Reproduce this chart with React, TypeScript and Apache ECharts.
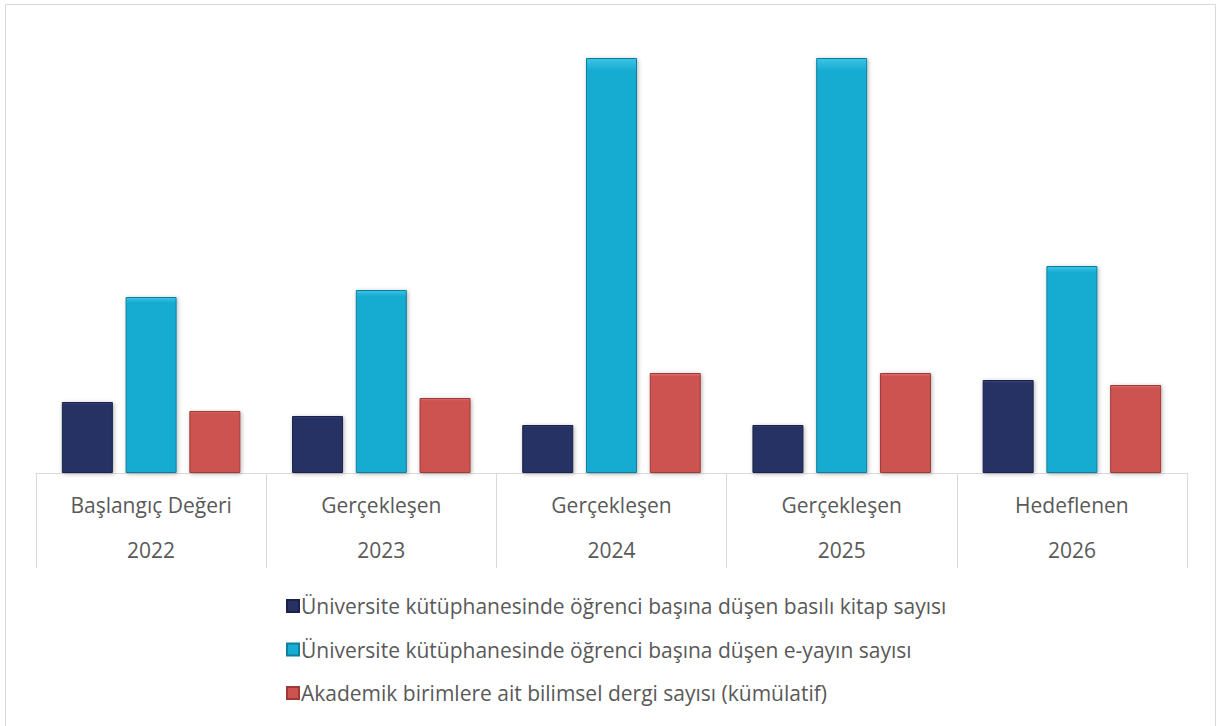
import React, { useEffect, useRef } from "react";
import * as echarts from "echarts";

const stages = ["Başlangıç Değeri", "Gerçekleşen", "Gerçekleşen", "Gerçekleşen", "Hedeflenen"];
const years = ["2022", "2023", "2024", "2025", "2026"];
const seriesNames = [
  "Üniversite kütüphanesinde öğrenci başına düşen basılı kitap sayısı",
  "Üniversite kütüphanesinde öğrenci başına düşen e-yayın sayısı",
  "Akademik birimlere ait bilimsel dergi sayısı (kümülatif)",
];
const printedBooks = [71, 57, 48, 48, 93];
const eResources = [176, 183, 415, 415, 207];
const journals = [62, 75, 100, 100, 88];
const colors = ["#283164", "#17acd2", "#cd5351"];
const borderColors = ["#1a2048", "#0e7f9c", "#9c3a38"];
const lightColors = ["#3a4680", "#3cc4e6", "#e07270"];

export default function App() {
  const ref = useRef<HTMLDivElement>(null);
  useEffect(() => {
    document.body.style.margin = "0";
    const chart = echarts.init(ref.current!, undefined, { renderer: "svg" });
    const font = "'Open Sans', 'Noto Sans', sans-serif";
    const mk = (i: number, data: number[]) => ({
      name: seriesNames[i],
      type: "bar",
      data,
      barWidth: 51,
      barGap: "25%",
      itemStyle: {
        color: {
          type: "linear",
          x: 0,
          y: 0,
          x2: 0,
          y2: 1,
          colorStops: [
            { offset: 0, color: lightColors[i] },
            { offset: 0.03, color: colors[i] },
            { offset: 1, color: colors[i] },
          ],
        },
        borderColor: borderColors[i],
        borderWidth: 1,
        shadowColor: "rgba(0,0,0,0.3)",
        shadowBlur: 4,
        shadowOffsetX: 1,
        shadowOffsetY: 1,
      },
    });
    chart.setOption({
      animation: false,
      textStyle: { fontFamily: font },
      graphic: [
        {
          type: "rect",
          shape: { x: 5.5, y: 4.5, width: 1210, height: 740 },
          style: { fill: "none", stroke: "#d9d9d9", lineWidth: 1 },
          silent: true,
        },
      ],
      grid: { left: 36, right: 1232 - 1187, top: 20, bottom: 726 - 473 },
      xAxis: {
        type: "category",
        data: stages.map((s, i) => s + "\n" + years[i]),
        axisLine: { lineStyle: { color: "#d9d9d9", width: 1 } },
        axisTick: { show: true, length: 95, lineStyle: { color: "#d9d9d9", width: 1 } },
        axisLabel: {
          color: "#595959",
          fontSize: 21,
          lineHeight: 45,
          margin: 9,
          fontFamily: font,
        },
      },
      yAxis: {
        type: "value",
        min: 0,
        max: 453,
        show: false,
        splitLine: { show: false },
      },
      legend: {
        orient: "vertical",
        left: 281,
        top: 589,
        icon: "rect",
        itemWidth: 12,
        itemHeight: 12,
        itemGap: 19.5,
        textStyle: { color: "#595959", fontSize: 21, fontFamily: font, lineHeight: 24, padding: [0, 0, 0, -3] },
        data: seriesNames,
      },
      series: [mk(0, printedBooks), mk(1, eResources), mk(2, journals)],
    });
    return () => chart.dispose();
  }, []);
  return <div ref={ref} style={{ width: 1232, height: 726 }} />;
}
